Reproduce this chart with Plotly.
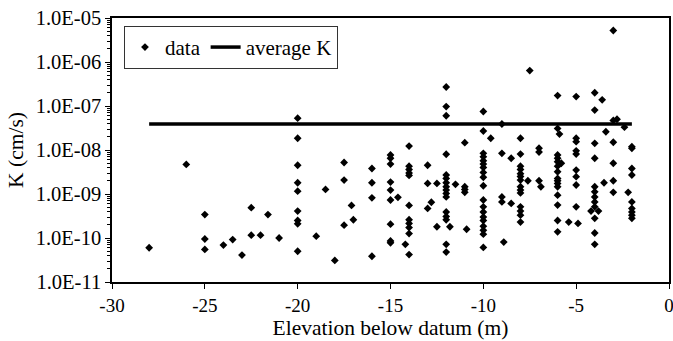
import plotly.graph_objects as go

# Data
elevation = (
    [-28, -26, -25, -25, -25, -24, -23.5, -23, -22.5, -22.5, -22, -21.6, -21]
    + [-20] * 9
    + [-19, -18.5, -18, -17.5, -17.5, -17.5, -17.1, -17]
    + [-16] * 4
    + [-15] * 9
    + [-14.6, -14.2]
    + [-14] * 11
    + [-13, -13, -13, -12.8, -12.5, -12.5]
    + [-12] * 16
    + [-11.8, -11.5]
    + [-11] * 4
    + [-10.9]
    + [-10] * 19
    + [-9.6, -9, -9, -9, -9, -8.9, -8.5, -8.5]
    + [-8] * 14
    + [-7.6, -7.5, -7, -7, -7, -6.9]
    + [-6] * 15
    + [-5.9, -5.8, -5.4]
    + [-5] * 9
    + [-4.9, -4.2]
    + [-4] * 12
    + [-3.8, -3.6, -3.5, -3.4]
    + [-3] * 6
    + [-2.8, -2.4, -2.2]
    + [-2] * 9
)

k_values = (
    [6e-11, 4.7e-9, 3.4e-10, 9.5e-11, 5.5e-11, 6.9e-11, 9.2e-11, 4.1e-11, 4.9e-10, 1.16e-10, 1.16e-10, 3.4e-10, 1.0e-10]
    + [5.3e-8, 1.85e-8, 4.5e-9, 1.8e-9, 1.16e-9, 4.1e-10, 2.5e-10, 2.1e-10, 5e-11]
    + [1.1e-10, 1.27e-9, 3.1e-11, 5.2e-9, 2.07e-9, 1.96e-10, 5.5e-10, 2.6e-10]
    + [3.8e-9, 1.8e-9, 8.2e-10, 3.85e-11]
    + [7.7e-9, 6.5e-9, 4.8e-9, 1.87e-9, 1.23e-9, 7.3e-10, 2.06e-10, 8.6e-11, 7.8e-11]
    + [8.4e-10, 7.2e-11]
    + [1.23e-8, 4.3e-9, 3.6e-9, 3.0e-9, 2.65e-9, 5.5e-10, 2.6e-10, 2.14e-10, 1.73e-10, 1.26e-10, 4.2e-11]
    + [4.5e-9, 1.74e-9, 4.7e-10, 6.5e-10, 1.74e-9, 1.8e-10]
    + [2.7e-7, 9.7e-8, 6.0e-8, 8e-9, 2.7e-9, 2.26e-9, 1.8e-9, 1.46e-9, 1.23e-9, 1.03e-9, 8.6e-10, 3.9e-10, 3.1e-10, 2.6e-10, 7.2e-11, 4.8e-11]
    + [1.8e-10, 1.66e-9]
    + [1.47e-8, 1.46e-9, 1.27e-9, 1.09e-9]
    + [1.58e-10]
    + [7.5e-8, 2.7e-8, 8.4e-9, 7.0e-9, 5.7e-9, 4.8e-9, 4.0e-9, 3.1e-9, 2.4e-9, 1.54e-9, 7.3e-10, 5.1e-10, 3.9e-10, 3.0e-10, 2.5e-10, 1.86e-10, 1.5e-10, 1.22e-10, 6.1e-11]
    + [1.85e-8, 3.9e-8, 8.4e-9, 8.6e-10, 6.6e-10, 8.1e-11, 6.5e-9, 6.1e-10]
    + [1.85e-8, 8.1e-9, 4.3e-9, 3.6e-9, 2.9e-9, 2.5e-9, 2.07e-9, 1.46e-9, 1.23e-9, 1.06e-9, 5.1e-10, 4.1e-10, 3.3e-10, 2.3e-10]
    + [2.0e-9, 6.4e-7, 1.1e-8, 9e-9, 2.0e-9, 1.46e-9]
    + [1.73e-7, 3.1e-8, 7.7e-9, 6.5e-9, 5.4e-9, 4.3e-9, 3.2e-9, 2.26e-9, 2.0e-9, 1.74e-9, 1.46e-9, 9.4e-10, 5.6e-10, 2.5e-10, 1.38e-10]
    + [2.3e-8, 5.0e-9, 2.3e-10]
    + [1.64e-7, 1.85e-8, 1.55e-8, 9.6e-9, 8.1e-9, 3.5e-9, 2.47e-9, 1.6e-9, 5.1e-10]
    + [2.14e-10, 4.1e-10]
    + [2.0e-7, 8.1e-8, 1.42e-8, 6.5e-9, 1.46e-9, 1.12e-9, 8.6e-10, 6.6e-10, 5.1e-10, 2.8e-10, 1.3e-10, 7.2e-11]
    + [4.1e-10, 1.38e-7, 1.8e-9, 2.6e-8]
    + [5.2e-6, 4.7e-8, 1.5e-8, 5.0e-9, 2.0e-9, 1.09e-9]
    + [5.0e-8, 3.3e-8, 1.09e-9]
    + [1.19e-8, 1.09e-8, 3.8e-9, 2.7e-9, 6.6e-10, 4.7e-10, 3.9e-10, 3.3e-10, 2.8e-10]
)

avg_x = [-28, -2]
avg_k = [3.9e-8, 3.9e-8]

x_ticks = [-30, -25, -20, -15, -10, -5, 0]
x_ticktext = ["-30", "-25", "-20", "-15", "-10", "-5", "0"]
y_tickvals = [1e-11, 1e-10, 1e-9, 1e-8, 1e-7, 1e-6, 1e-5]
y_ticktext = ["1.0E-11", "1.0E-10", "1.0E-09", "1.0E-08", "1.0E-07", "1.0E-06", "1.0E-05"]

font_family = "Liberation Serif"

fig = go.Figure()
fig.add_trace(go.Scatter(
    x=elevation, y=k_values, mode="markers", name="data",
    marker=dict(symbol="diamond", size=6, color="black", line=dict(width=0)),
))
fig.add_trace(go.Scatter(
    x=avg_x, y=avg_k, mode="lines", name="average K",
    line=dict(color="black", width=3.5),
))

fig.update_layout(
    template="none",
    width=673, height=341,
    margin=dict(l=112, r=4, t=18, b=59, autoexpand=False),
    paper_bgcolor="white", plot_bgcolor="white",
    font=dict(family=font_family, size=19, color="black"),
    showlegend=True,
    legend=dict(
        orientation="h", x=0.0215, y=0.97, xanchor="left", yanchor="top",
        bordercolor="#333", borderwidth=1, bgcolor="white",
        font=dict(family=font_family, size=21, color="black"),
        itemwidth=30,
    ),
    xaxis=dict(
        range=[-30, 0], tickvals=x_ticks, ticktext=x_ticktext, ticks="outside", ticklen=5,
        tickcolor="black", showline=True, linecolor="black", linewidth=1.5,
        mirror=True, showgrid=False, zeroline=False, automargin=False,
        ticklabeloverflow="allow",
        title=dict(text="Elevation below datum (m)", font=dict(family=font_family, size=21.5), standoff=4),
        tickfont=dict(family=font_family, size=19),
    ),
    yaxis=dict(
        type="log", range=[-11, -5], tickvals=y_tickvals, ticktext=y_ticktext,
        ticks="outside", ticklen=5, tickcolor="black",
        showline=True, linecolor="black", linewidth=1.5, mirror=True,
        showgrid=False, zeroline=False, automargin=False,
        ticklabeloverflow="allow",
        minor=dict(ticks="outside", ticklen=3, tickcolor="black", dtick="D1", showgrid=False),
        title=dict(text="K (cm/s)", font=dict(family=font_family, size=21.5), standoff=6),
        tickfont=dict(family=font_family, size=20.5),
    ),
)

fig.write_html(
    "out.html",
    config={"displayModeBar": False},
    post_script="document.body.style.margin='0';",
)
